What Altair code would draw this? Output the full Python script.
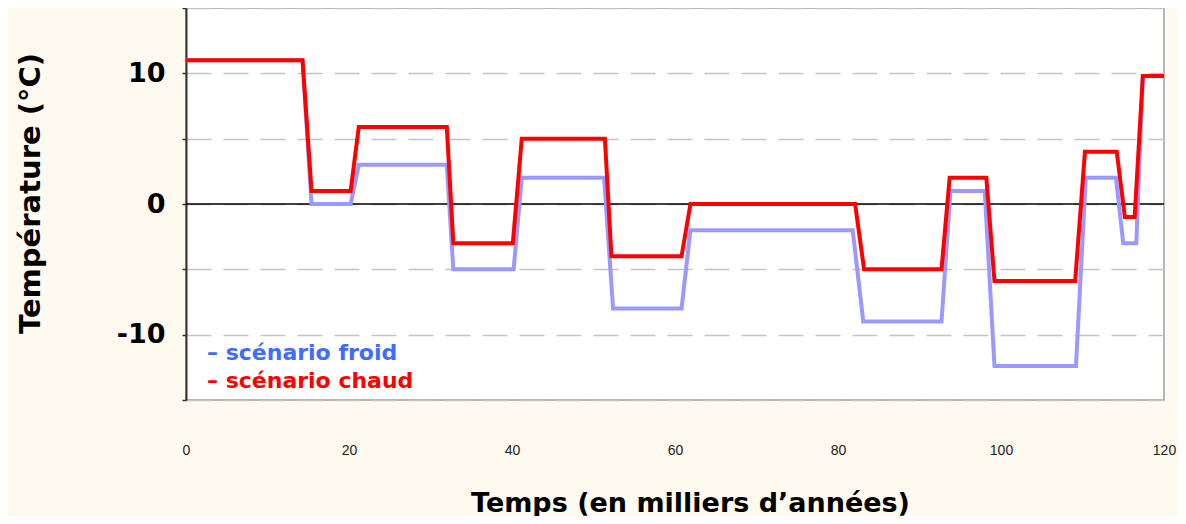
import altair as alt
import pandas as pd

# Data
chaud_t = [0, 14.3, 15.4, 20.2, 21.2, 32.0, 32.8, 40.1, 41.2, 51.4, 52.2, 60.8, 61.9,
           82.1, 83.2, 92.7, 93.7, 98.2, 99.2, 109.1, 110.3, 114.2, 115.2, 116.4, 117.4, 120]
chaud_v = [11, 11, 1, 1, 5.9, 5.9, -3, -3, 5, 5, -4, -4, 0,
           0, -5, -5, 2, 2, -5.9, -5.9, 4, 4, -1, -1, 9.8, 9.8]
froid_t = [0, 14.3, 15.4, 20.2, 21.2, 32.0, 32.8, 40.2, 41.2, 51.3, 52.4, 60.8, 61.9,
           81.8, 83.1, 92.7, 93.8, 98.0, 99.2, 109.2, 110.4, 114.1, 115.0, 116.6, 117.4, 120]
froid_v = [11, 11, 0, 0, 3, 3, -5, -5, 2, 2, -8, -8, -2,
           -2, -9, -9, 1, 1, -12.4, -12.4, 2, 2, -3, -3, 9.8, 9.8]
x_ticks = [0, 20, 40, 60, 80, 100, 120]
y_ticks = [-15, -10, -5, 0, 5, 10, 15]
legend_labels = ["– scénario froid", "– scénario chaud"]
legend_colors = ["#3f6bff", "#ff0000"]

df_chaud = pd.DataFrame({"t": chaud_t, "v": chaud_v, "order": range(len(chaud_t))})
df_froid = pd.DataFrame({"t": froid_t, "v": froid_v, "order": range(len(froid_t))})

W, H = 978, 392
xscale = alt.Scale(domain=[0, 120], nice=False, zero=False)
yscale = alt.Scale(domain=[-15, 15], nice=False, zero=False)

xaxis = alt.Axis(values=x_ticks, tickSize=0, grid=False, domain=False,
                 labelFont="Liberation Sans", labelFontSize=14, labelColor="#222",
                 labelPadding=43, labelFlush=False,
                 title="Temps (en milliers d’années)", titleFont="DejaVu Sans",
                 titleFontSize=27, titleFontWeight="bold", titleColor="#000",
                 titleX=504, titleY=103, titleBaseline="middle", titleAnchor="middle",
                 titleAlign="center")
yaxis = alt.Axis(values=y_ticks, tickSize=4, tickColor="#333", tickWidth=1.5,
                 domainColor="#333", domainWidth=2,
                 grid=True, gridDash=[25, 12], gridColor="#c4c4c4", gridWidth=1.5,
                 labelExpr="datum.value % 10 == 0 ? toString(datum.value) : ''",
                 labelFont="DejaVu Sans", labelFontSize=27, labelFontWeight="bold",
                 labelColor="#000", labelPadding=17,
                 title="Température (°C)", titleFont="DejaVu Sans", titleFontSize=29,
                 titleFontWeight="bold", titleColor="#000", titleAngle=270,
                 titleX=-156, titleY=185, titleBaseline="middle", titleAlign="center")

X = lambda f: alt.X(f, scale=xscale, axis=xaxis)
Y = lambda f: alt.Y(f, scale=yscale, axis=yaxis)

zero = alt.Chart(pd.DataFrame({"y": [0]})).mark_rule(color="#000", strokeWidth=1.5).encode(
    y=Y("y:Q")
)
line_froid = alt.Chart(df_froid).mark_line(color="#9999ff", strokeWidth=4,
                                           strokeJoin="miter", clip=True).encode(
    x=X("t:Q"), y=Y("v:Q"), order="order:O",
)
line_chaud = alt.Chart(df_chaud).mark_line(color="#ff0000", strokeWidth=4,
                                           strokeJoin="miter", clip=True).encode(
    x=X("t:Q"), y=Y("v:Q"), order="order:O",
)

legend_layers = []
for i, (lab, col) in enumerate(zip(legend_labels, legend_colors)):
    legend_layers.append(
        alt.Chart(pd.DataFrame({"label": [lab]})).mark_text(
            align="left", baseline="middle", font="DejaVu Sans",
            fontSize=22, fontWeight="bold", color=col).encode(
            x=alt.value(21), y=alt.value(345 + 28 * i), text="label:N")
    )

chart = alt.layer(zero, line_froid, line_chaud, *legend_layers).properties(
    width=W, height=H,
    padding={"left": 178, "top": 0, "right": 14, "bottom": 116},
    autosize=alt.AutoSizeParams(type="none"),
    background="#fffaf0",
).configure_view(
    fill="#ffffff", stroke="#a0a0a0", strokeWidth=1.5
)

chart.save("out.html", embed_options={"renderer": "svg", "actions": False})
